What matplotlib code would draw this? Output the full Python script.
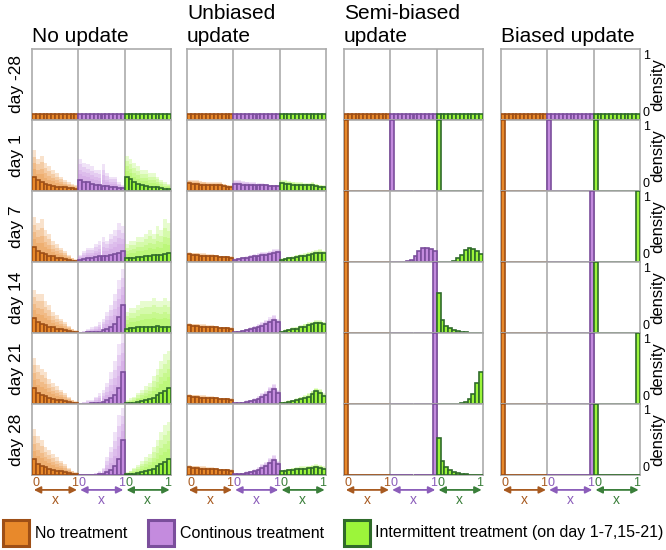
import numpy as np
import matplotlib
matplotlib.use('Agg')
import matplotlib.pyplot as plt
from matplotlib.patches import Rectangle

plt.rcParams['font.family'] = ['Liberation Sans', 'DejaVu Sans']

# ---------------- data ----------------
days = ['day -28', 'day 1', 'day 7', 'day 14', 'day 21', 'day 28']
panel_titles = [['No update'], ['Unbiased', 'update'], ['Semi-biased', 'update'], ['Biased update']]
treatments = ['No treatment', 'Continous treatment', 'Intermittent treatment (on day 1-7,15-21)']
n_bins = 12

uniform = [0.083, 0.083, 0.083, 0.083, 0.083, 0.083, 0.083, 0.083, 0.083, 0.083, 0.083, 0.083]
at_zero = [1, 0, 0, 0, 0, 0, 0, 0, 0, 0, 0, 0]
at_one = [0, 0, 0, 0, 0, 0, 0, 0, 0, 0, 0, 1]

# No update: mean histograms (rows = days) and upper envelope of individual runs
noupd_none = [
    uniform,
    [0.20, 0.15, 0.13, 0.10, 0.08, 0.07, 0.06, 0.05, 0.05, 0.04, 0.04, 0.03],
    [0.21, 0.16, 0.13, 0.11, 0.09, 0.08, 0.06, 0.05, 0.04, 0.03, 0.02, 0.02],
    [0.21, 0.16, 0.13, 0.11, 0.09, 0.08, 0.06, 0.05, 0.04, 0.03, 0.02, 0.02],
    [0.22, 0.16, 0.13, 0.11, 0.09, 0.07, 0.06, 0.05, 0.04, 0.03, 0.02, 0.02],
    [0.22, 0.16, 0.13, 0.11, 0.09, 0.07, 0.06, 0.05, 0.04, 0.03, 0.02, 0.02],
]
noupd_none_hi = [
    uniform,
    [0.58, 0.45, 0.50, 0.40, 0.35, 0.30, 0.25, 0.20, 0.15, 0.12, 0.10, 0.08],
    [0.63, 0.55, 0.60, 0.45, 0.40, 0.30, 0.25, 0.20, 0.15, 0.10, 0.06, 0.04],
    [0.60, 0.55, 0.55, 0.45, 0.40, 0.30, 0.25, 0.20, 0.15, 0.10, 0.06, 0.04],
    [0.65, 0.55, 0.50, 0.45, 0.35, 0.30, 0.25, 0.20, 0.15, 0.10, 0.06, 0.04],
    [0.65, 0.55, 0.50, 0.40, 0.35, 0.30, 0.25, 0.20, 0.15, 0.10, 0.06, 0.04],
]
noupd_cont = [
    uniform,
    [0.15, 0.13, 0.12, 0.10, 0.09, 0.08, 0.07, 0.07, 0.06, 0.05, 0.04, 0.04],
    [0.03, 0.04, 0.05, 0.06, 0.07, 0.08, 0.08, 0.09, 0.10, 0.11, 0.13, 0.16],
    [0.00, 0.00, 0.01, 0.01, 0.02, 0.02, 0.04, 0.06, 0.09, 0.13, 0.22, 0.40],
    [0.00, 0.00, 0.00, 0.01, 0.01, 0.02, 0.03, 0.05, 0.08, 0.13, 0.22, 0.45],
    [0.00, 0.00, 0.00, 0.00, 0.00, 0.01, 0.02, 0.04, 0.07, 0.13, 0.23, 0.50],
]
noupd_cont_hi = [
    uniform,
    [0.45, 0.40, 0.38, 0.35, 0.30, 0.30, 0.38, 0.25, 0.20, 0.20, 0.12, 0.08],
    [0.10, 0.15, 0.20, 0.20, 0.25, 0.30, 0.35, 0.30, 0.40, 0.45, 0.55, 0.50],
    [0.02, 0.03, 0.05, 0.08, 0.10, 0.15, 0.20, 0.30, 0.40, 0.55, 0.75, 0.90],
    [0.02, 0.03, 0.05, 0.06, 0.10, 0.15, 0.20, 0.30, 0.45, 0.60, 0.85, 1.00],
    [0.00, 0.00, 0.01, 0.02, 0.03, 0.05, 0.10, 0.25, 0.40, 0.60, 0.85, 0.95],
]
noupd_inter = [
    uniform,
    [0.20, 0.17, 0.12, 0.10, 0.08, 0.07, 0.06, 0.05, 0.05, 0.04, 0.03, 0.03],
    [0.05, 0.05, 0.06, 0.07, 0.07, 0.08, 0.09, 0.10, 0.10, 0.10, 0.11, 0.12],
    [0.06, 0.07, 0.07, 0.08, 0.08, 0.09, 0.09, 0.09, 0.10, 0.09, 0.09, 0.09],
    [0.01, 0.01, 0.02, 0.03, 0.04, 0.05, 0.07, 0.09, 0.12, 0.15, 0.18, 0.23],
    [0.01, 0.02, 0.02, 0.03, 0.04, 0.05, 0.07, 0.09, 0.12, 0.15, 0.18, 0.22],
]
noupd_inter_hi = [
    uniform,
    [0.50, 0.45, 0.40, 0.35, 0.30, 0.30, 0.25, 0.25, 0.20, 0.15, 0.12, 0.10],
    [0.25, 0.30, 0.30, 0.35, 0.35, 0.40, 0.45, 0.40, 0.50, 0.45, 0.60, 0.55],
    [0.30, 0.35, 0.35, 0.40, 0.45, 0.45, 0.45, 0.50, 0.45, 0.45, 0.50, 0.45],
    [0.05, 0.08, 0.10, 0.15, 0.20, 0.25, 0.30, 0.40, 0.50, 0.60, 0.70, 0.75],
    [0.04, 0.06, 0.10, 0.14, 0.20, 0.25, 0.30, 0.40, 0.50, 0.60, 0.70, 0.75],
]

# Unbiased update
unb_none = [
    uniform,
    [0.11, 0.10, 0.10, 0.09, 0.09, 0.08, 0.08, 0.08, 0.08, 0.07, 0.06, 0.06],
    [0.11, 0.10, 0.10, 0.09, 0.09, 0.08, 0.08, 0.08, 0.07, 0.07, 0.07, 0.06],
    [0.11, 0.10, 0.10, 0.09, 0.09, 0.08, 0.08, 0.08, 0.07, 0.07, 0.07, 0.06],
    [0.11, 0.10, 0.10, 0.09, 0.09, 0.08, 0.08, 0.08, 0.07, 0.07, 0.07, 0.06],
    [0.11, 0.10, 0.10, 0.09, 0.09, 0.08, 0.08, 0.08, 0.07, 0.07, 0.07, 0.06],
]
unb_none_hi = [
    uniform,
    [0.16, 0.16, 0.15, 0.14, 0.13, 0.12, 0.12, 0.12, 0.12, 0.10, 0.09, 0.08],
    [0.14, 0.13, 0.13, 0.12, 0.12, 0.11, 0.11, 0.10, 0.09, 0.09, 0.09, 0.08],
    [0.14, 0.13, 0.13, 0.12, 0.12, 0.11, 0.11, 0.10, 0.09, 0.09, 0.09, 0.08],
    [0.14, 0.13, 0.13, 0.12, 0.12, 0.11, 0.11, 0.10, 0.09, 0.09, 0.09, 0.08],
    [0.14, 0.13, 0.13, 0.12, 0.12, 0.11, 0.11, 0.10, 0.09, 0.09, 0.09, 0.08],
]
unb_cont = [
    uniform,
    [0.10, 0.10, 0.09, 0.09, 0.09, 0.08, 0.08, 0.08, 0.08, 0.07, 0.07, 0.07],
    [0.03, 0.04, 0.05, 0.06, 0.07, 0.08, 0.09, 0.10, 0.10, 0.11, 0.13, 0.14],
    [0.01, 0.02, 0.03, 0.04, 0.05, 0.07, 0.08, 0.10, 0.12, 0.15, 0.18, 0.15],
    [0.01, 0.01, 0.02, 0.03, 0.04, 0.05, 0.07, 0.10, 0.13, 0.17, 0.21, 0.16],
    [0.01, 0.01, 0.02, 0.03, 0.04, 0.05, 0.07, 0.10, 0.13, 0.17, 0.21, 0.16],
]
unb_cont_hi = [
    uniform,
    [0.15, 0.15, 0.14, 0.13, 0.12, 0.12, 0.11, 0.11, 0.10, 0.09, 0.09, 0.08],
    [0.05, 0.06, 0.07, 0.08, 0.10, 0.11, 0.12, 0.14, 0.14, 0.16, 0.18, 0.18],
    [0.02, 0.03, 0.04, 0.06, 0.08, 0.10, 0.12, 0.15, 0.18, 0.22, 0.25, 0.20],
    [0.02, 0.02, 0.03, 0.05, 0.06, 0.08, 0.11, 0.15, 0.19, 0.24, 0.28, 0.20],
    [0.02, 0.02, 0.03, 0.05, 0.06, 0.08, 0.11, 0.15, 0.19, 0.24, 0.28, 0.20],
]
unb_inter = [
    uniform,
    [0.11, 0.10, 0.10, 0.09, 0.09, 0.08, 0.08, 0.08, 0.08, 0.07, 0.06, 0.06],
    [0.03, 0.04, 0.05, 0.06, 0.07, 0.08, 0.09, 0.10, 0.11, 0.12, 0.13, 0.12],
    [0.02, 0.03, 0.04, 0.05, 0.06, 0.08, 0.09, 0.11, 0.12, 0.14, 0.14, 0.12],
    [0.02, 0.02, 0.03, 0.04, 0.05, 0.07, 0.08, 0.10, 0.14, 0.18, 0.16, 0.11],
    [0.05, 0.06, 0.07, 0.07, 0.08, 0.08, 0.09, 0.10, 0.10, 0.11, 0.10, 0.09],
]
unb_inter_hi = [
    uniform,
    [0.15, 0.15, 0.14, 0.13, 0.12, 0.12, 0.11, 0.11, 0.12, 0.10, 0.09, 0.08],
    [0.05, 0.06, 0.07, 0.08, 0.10, 0.11, 0.12, 0.14, 0.15, 0.17, 0.18, 0.16],
    [0.03, 0.05, 0.06, 0.08, 0.09, 0.11, 0.13, 0.15, 0.16, 0.18, 0.18, 0.16],
    [0.03, 0.04, 0.05, 0.06, 0.08, 0.10, 0.12, 0.15, 0.19, 0.23, 0.21, 0.15],
    [0.07, 0.08, 0.09, 0.10, 0.11, 0.12, 0.12, 0.13, 0.14, 0.15, 0.14, 0.12],
]

# Semi-biased update
semi_none = [uniform, at_zero, at_zero, at_zero, at_zero, at_zero]
semi_cont = [
    uniform,
    at_zero,
    [0.00, 0.00, 0.00, 0.00, 0.01, 0.03, 0.08, 0.15, 0.20, 0.20, 0.18, 0.15],
    at_one,
    at_one,
    at_one,
]
semi_inter = [
    uniform,
    at_zero,
    [0.00, 0.00, 0.00, 0.005, 0.02, 0.05, 0.10, 0.17, 0.20, 0.19, 0.15, 0.115],
    [0.56, 0.18, 0.10, 0.07, 0.04, 0.03, 0.01, 0.01, 0.00, 0.00, 0.00, 0.00],
    [0.00, 0.00, 0.00, 0.00, 0.00, 0.00, 0.01, 0.03, 0.07, 0.14, 0.30, 0.45],
    [0.52, 0.20, 0.11, 0.07, 0.04, 0.03, 0.02, 0.01, 0.00, 0.00, 0.00, 0.00],
]

# Biased update
bias_none = [uniform, at_zero, at_zero, at_zero, at_zero, at_zero]
bias_cont = [uniform, at_zero, at_one, at_one, at_one, at_one]
bias_inter = [uniform, at_zero, at_one, at_zero, at_one, at_zero]

panel_means = [
    [noupd_none, noupd_cont, noupd_inter],
    [unb_none, unb_cont, unb_inter],
    [semi_none, semi_cont, semi_inter],
    [bias_none, bias_cont, bias_inter],
]
panel_highs = [
    [noupd_none_hi, noupd_cont_hi, noupd_inter_hi],
    [unb_none_hi, unb_cont_hi, unb_inter_hi],
    [None, None, None],
    [None, None, None],
]

# ---------------- style ----------------
fills = ['#E8892B', '#C48BDE', '#9CF53A']
edges_c = ['#9E4F16', '#7B4E9C', '#2F6B2A']
label_c = ['#A85A20', '#8B5DBA', '#3A7F3A']
grid_c = '#ABABAB'

W, H = 666, 550
fig = plt.figure(figsize=(6.66, 5.5), dpi=100)

panel_left = [32, 187, 344, 501]
pw = 139
top_px, bot_px = 49, 475
rh = (bot_px - top_px) / 6
bin_edges = np.linspace(0, 1, n_bins + 1)
bw = 1.0 / n_bins
shade_fracs = [1.0, 0.75, 0.5, 0.28]

for p in range(4):
    for r in range(6):
        y_top = top_px + r * rh
        ax = fig.add_axes([panel_left[p] / W, 1 - (y_top + rh) / H, pw / W, rh / H])
        ax.set_xlim(0, 3)
        ax.set_ylim(0, 1)
        ax.set_xticks([])
        ax.set_yticks([])
        for s in ax.spines.values():
            s.set_color(grid_c)
            s.set_linewidth(1.2)
        for xv in (1, 2):
            ax.axvline(xv, color=grid_c, lw=1.2, zorder=0.5)
        for t in range(3):
            m = np.array(panel_means[p][t][r], dtype=float)
            xs = t + bin_edges[:-1]
            hi_set = panel_highs[p][t]
            if hi_set is not None and r > 0:
                hi = np.array(hi_set[r], dtype=float)
                for f in shade_fracs:
                    ax.bar(xs, m + (hi - m) * f, width=bw, align='edge',
                           color=fills[t], alpha=0.24, linewidth=0, zorder=1)
            ax.bar(xs, m, width=bw, align='edge', color=fills[t],
                   edgecolor=edges_c[t], linewidth=1.2, zorder=3)

        if p == 0:
            fig.text(17 / W, 1 - (y_top + rh / 2) / H, days[r], rotation=90,
                     ha='center', va='center', fontsize=12.5)
        if p == 3:
            ax.text(1.02, 0.985, '1', transform=ax.transAxes, ha='left', va='top', fontsize=9)
            ax.text(1.02, 0.02, '0', transform=ax.transAxes, ha='left', va='bottom', fontsize=9)
            ax.text(1.13, 0.5, 'density', transform=ax.transAxes, rotation=90,
                    ha='center', va='center', fontsize=12)
        if r == 5:
            tr = ax.get_xaxis_transform()
            for t in range(3):
                ax.text(t + 0.01, -0.03, '0', transform=tr, ha='left', va='top',
                        fontsize=9, color=label_c[t], clip_on=False)
                ax.text(t + 1.0, -0.03, '1', transform=tr, ha='right', va='top',
                        fontsize=9, color=label_c[t], clip_on=False)
                ax.annotate('', xy=(t + 0.97, -0.21), xytext=(t + 0.04, -0.21),
                            xycoords=tr, textcoords=tr,
                            arrowprops=dict(arrowstyle='<|-|>', color=label_c[t],
                                            lw=1.3, mutation_scale=10,
                                            shrinkA=0, shrinkB=0))
                ax.text(t + 0.5, -0.26, 'x', transform=tr, ha='center', va='top',
                        fontsize=10, color=label_c[t], clip_on=False)

# titles
for p, lines in enumerate(panel_titles):
    base = 42
    for i, line in enumerate(reversed(lines)):
        fig.text(panel_left[p] / W, 1 - (base - i * 23) / H, line,
                 ha='left', va='baseline', fontsize=15)

# legend
leg_sq = [3, 148, 344]
leg_tx = [35, 180, 375]
for t in range(3):
    fig.add_artist(Rectangle((leg_sq[t] / W, 1 - 546 / H), 26 / W, 26 / H,
                             transform=fig.transFigure, facecolor=fills[t],
                             edgecolor=edges_c[t], linewidth=2.2))
    fig.text(leg_tx[t] / W, 1 - 533 / H, treatments[t], ha='left', va='center',
             fontsize=11.5)

fig.savefig('out.png', dpi=100)
